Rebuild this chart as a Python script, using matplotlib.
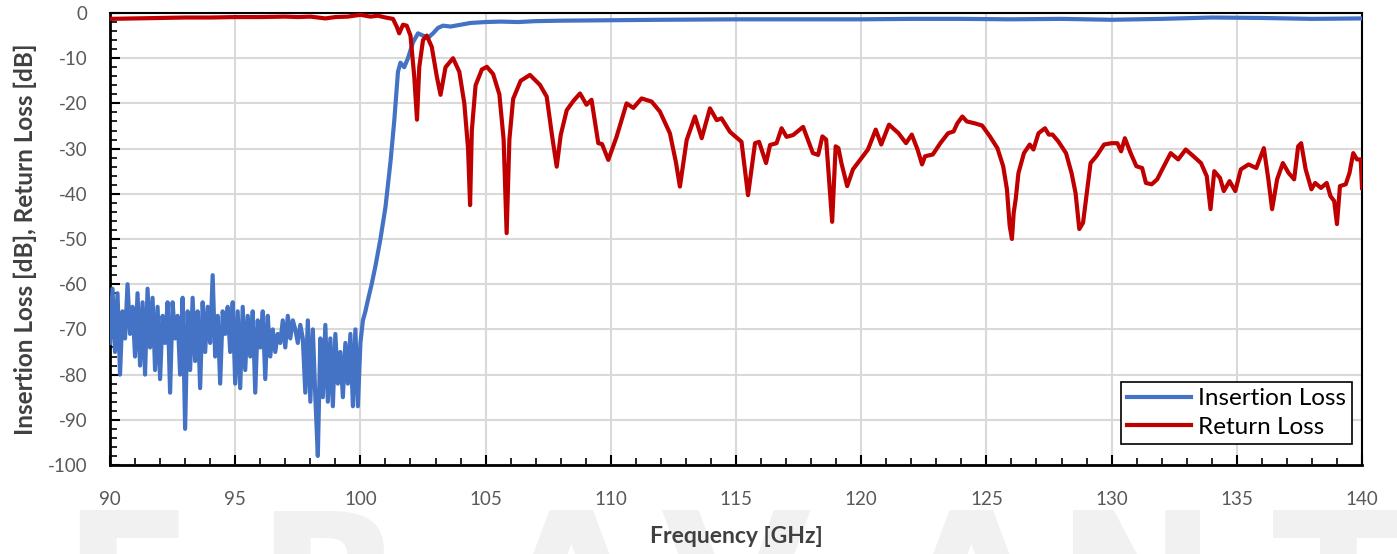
import matplotlib
matplotlib.use('Agg')
import matplotlib.pyplot as plt
from matplotlib.ticker import MultipleLocator
import numpy as np

plt.rcParams['font.family'] = ['Lato', 'DejaVu Sans']
plt.rcParams['axes.unicode_minus'] = False

# insertion loss: noisy stop band 90.0 .. 100.2 GHz in 0.1 GHz steps
il_noise = [-73, -61, -75, -62, -80, -66, -72, -60, -71, -65,
            -76, -62, -78, -64, -80, -61, -74, -63, -79, -65,
            -81, -67, -73, -64, -84, -64, -72, -67, -80, -63,
            -92, -66, -79, -63, -77, -66, -83, -64, -75, -65,
            -73, -58, -76, -67, -82, -66, -71, -65, -75, -64,
            -82, -66, -83, -65, -79, -67, -76, -66, -84, -68,
            -74, -66, -81, -67, -76, -70, -75, -71, -73, -68,
            -74, -67, -72, -68, -70, -73, -69, -72, -84, -68,
            -86, -70, -85, -98, -72, -85, -69, -86, -72, -87,
            -71, -82, -75, -85, -73, -82, -71, -87, -70, -87,
            -73, -68, -66]
il_noise_freq = [round(90 + 0.1 * i, 2) for i in range(len(il_noise))]

il_pass_freq = [100.3, 100.45, 100.6, 100.8, 101.0, 101.2, 101.35, 101.5, 101.6, 101.75,
                101.9, 102.1, 102.3, 102.5, 102.7, 102.9, 103.1, 103.3, 103.6, 103.9,
                104.4, 105.0, 105.6, 106.3, 107, 108, 110, 112, 115, 118,
                120, 122, 124, 126, 128, 130, 132, 134, 136, 138, 140]
il_pass = [-63.5, -60, -56, -50, -43, -33, -24, -13, -11, -12,
           -10, -6.5, -4.5, -5.0, -5.5, -4.5, -3.3, -2.8, -3.0, -2.7,
           -2.2, -2.0, -1.9, -2.0, -1.8, -1.7, -1.6, -1.5, -1.4, -1.4,
           -1.4, -1.3, -1.3, -1.4, -1.3, -1.5, -1.3, -1.0, -1.1, -1.3, -1.2]

il_freq = il_noise_freq + il_pass_freq
il_db = il_noise + il_pass

rl_freq = [90, 91, 92, 93, 94, 95, 96, 97, 97.5, 98, 98.6, 99, 99.5, 100, 100.4, 100.7,
           101.0, 101.3, 101.45, 101.55, 101.7, 101.85, 102.0, 102.15, 102.26, 102.35,
           102.5, 102.65, 102.85, 103.05, 103.2, 103.4, 103.7, 103.95, 104.15, 104.3,
           104.38, 104.45, 104.6, 104.85, 105.05, 105.3, 105.55, 105.72, 105.84, 105.95,
           106.1, 106.4, 106.77, 107.17, 107.44, 107.65, 107.84, 108.0, 108.24, 108.5,
           108.77, 109.03, 109.23, 109.5, 109.65, 109.9, 110.23, 110.63, 110.9, 111.23,
           111.63, 111.96, 112.36, 112.6, 112.76, 113.03, 113.36, 113.63, 113.96, 114.23,
           114.42, 114.76, 115.22, 115.48, 115.76, 115.92, 116.2, 116.36, 116.62, 116.82,
           117.02, 117.28, 117.68, 118.07, 118.28, 118.45, 118.6, 118.84, 118.98, 119.09,
           119.21, 119.44, 119.67, 119.97, 120.27, 120.58, 120.8, 121.11, 121.49, 121.79,
           122.02, 122.25, 122.43, 122.55, 122.86, 123.16, 123.47, 123.69, 123.84, 124.04,
           124.22, 124.53, 124.83, 125.14, 125.44, 125.67, 125.82, 125.93, 126.02, 126.09,
           126.17, 126.28, 126.5, 126.73, 126.88, 127.08, 127.34, 127.49, 127.64, 127.87,
           128.18, 128.4, 128.56, 128.71, 128.86, 129.01, 129.16, 129.39, 129.7, 130.0,
           130.23, 130.38, 130.53, 130.76, 130.99, 131.22, 131.37, 131.6, 131.82, 132.05,
           132.36, 132.66, 132.96, 133.27, 133.57, 133.8, 133.95, 134.1, 134.33, 134.48,
           134.71, 134.94, 135.16, 135.47, 135.78, 136.08, 136.26, 136.41, 136.61, 136.84,
           137.07, 137.29, 137.45, 137.57, 137.75, 137.98, 138.13, 138.36, 138.59, 138.74,
           138.89, 139.0, 139.12, 139.35, 139.5, 139.65, 139.8, 139.95, 140.0]
rl_db = [-1.3, -1.2, -1.1, -1.0, -1.0, -0.9, -0.9, -0.8, -0.9, -0.8, -1.2, -0.9, -0.8, -0.4, -0.8, -0.6,
         -1.0, -1.3, -3.0, -4.5, -2.6, -2.8, -5, -14, -23.6, -12,
         -6, -5, -7.5, -14, -18.1, -12, -10, -13, -20, -30,
         -42.5, -26, -16, -12.5, -11.9, -13.5, -18, -28, -48.7, -28,
         -19, -15, -13.7, -15.9, -18.5, -27, -34, -27, -21.5, -19.5,
         -17.8, -20.3, -19.2, -28.8, -29, -32.5, -27.4, -20, -21, -18.9,
         -19.6, -21.8, -26.6, -33, -38.4, -28.1, -22.9, -27.7, -21.1, -23.7,
         -23.3, -26.3, -28.5, -40.3, -28.8, -28.5, -33.2, -29.2, -28.8, -25.5,
         -27.4, -27.0, -25.2, -31, -31.4, -27.3, -28, -46.2, -29.5, -29.9,
         -33.2, -38.3, -34.6, -32.4, -30.2, -25.8, -29.1, -24.7, -26.6, -28.8,
         -26.9, -30.2, -33.5, -31.7, -31.3, -28.8, -26.6, -26.2, -24.4, -22.9,
         -24, -24.4, -24.9, -27.3, -29.9, -33.9, -39, -47.1, -50, -44.2,
         -41.2, -35.4, -31, -29.1, -30.2, -26.6, -25.5, -26.9, -26.9, -28.4,
         -31, -35.4, -39.8, -47.8, -46.4, -39.8, -33.2, -31.7, -29.1, -28.8,
         -28.8, -30.6, -27.7, -31, -33.9, -34.3, -37.6, -37.9, -36.8, -34.3,
         -31, -32.4, -30.2, -31.7, -33.2, -36.1, -43.4, -35, -36.5, -39.4,
         -37.2, -39.4, -34.6, -33.5, -34.3, -29.9, -36.8, -43.4, -36.8, -33.2,
         -35.4, -36.8, -29.5, -28.8, -34.6, -39, -37.6, -38.7, -37.6, -40.5,
         -41.6, -46.7, -38.3, -37.9, -35.4, -31, -32.4, -32.4, -38.7]

watermark_letters = ['E', 'R', 'A', 'V', 'A', 'N', 'T']
watermark_x = [128, 330, 570, 735, 970, 1135, 1338]

fig = plt.figure(figsize=(13.97, 5.54), dpi=100)
ax = fig.add_axes([110 / 1397, 89 / 554, 1252 / 1397, 452 / 554])
ax.set_zorder(1)

for letter, xp in zip(watermark_letters, watermark_x):
    fig.text(xp / 1397, -98 / 554, letter, fontsize=140, fontweight='bold',
             color='#f1f1f1', ha='center', va='baseline', family='DejaVu Sans', zorder=-5)

ax.plot(il_freq, il_db, color='#4472c4', lw=3, label='Insertion Loss', zorder=3)
ax.plot(rl_freq, rl_db, color='#c00000', lw=3, label='Return Loss', zorder=4)

ax.set_xlim(90, 140)
ax.set_ylim(-100, 0)
ax.xaxis.set_major_locator(MultipleLocator(5))
ax.xaxis.set_minor_locator(MultipleLocator(1))
ax.yaxis.set_major_locator(MultipleLocator(10))
ax.yaxis.set_minor_locator(MultipleLocator(2))
ax.grid(True, which='major', color='#d9d9d9', lw=1.5, zorder=0)
ax.set_axisbelow(True)

ax.tick_params(which='major', direction='in', length=7, width=1.5, colors='black',
               labelcolor='#595959', labelsize=13.5)
ax.tick_params(which='minor', direction='in', length=5, width=1.2, colors='black')
ax.tick_params(axis='x', pad=19)
ax.tick_params(axis='y', pad=16)
for s in ['left', 'bottom']:
    ax.spines[s].set_linewidth(2)
for s in ['top', 'right']:
    ax.spines[s].set_linewidth(1.5)

ax.set_xlabel('Frequency [GHz]', fontsize=16.5, fontweight='bold', color='#404040', labelpad=13)
ax.set_ylabel('Insertion Loss [dB], Return Loss [dB]', fontsize=17.5, fontweight='bold',
              color='#404040', labelpad=8)

leg = ax.legend(loc='lower right', bbox_to_anchor=(0.992, 0.047), fontsize=17.5, frameon=True,
                fancybox=False, edgecolor='black', framealpha=1, handlelength=2.6,
                borderpad=0.25, labelspacing=0.3, handletextpad=0.3, borderaxespad=0)
leg.get_frame().set_linewidth(1.2)

fig.savefig('out.png', dpi=100)
